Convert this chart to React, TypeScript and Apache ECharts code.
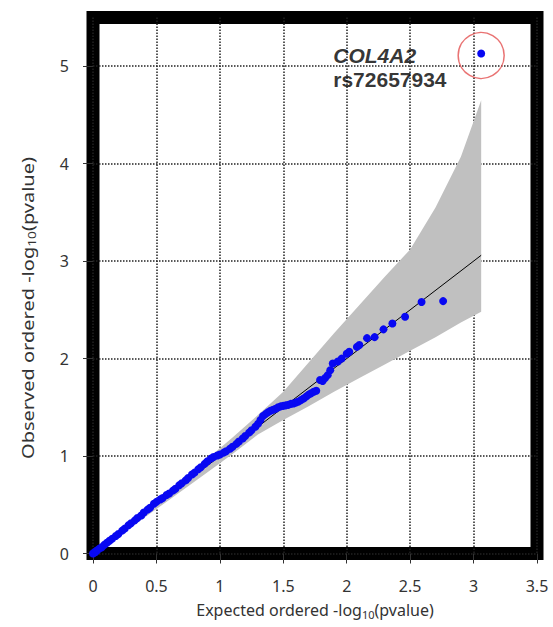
import React, { useEffect, useRef } from 'react';
import * as echarts from 'echarts';

// axis ticks
const xTicks = [0, 0.5, 1, 1.5, 2, 2.5, 3, 3.5];
const yTicks = [0, 1, 2, 3, 4, 5];

// QQ points: expected vs observed -log10(p)
const expected = [
  0, 0.01, 0.02, 0.03, 0.05, 0.07, 0.09, 0.11, 0.13, 0.15, 0.18, 0.2, 0.23, 0.25, 0.28, 0.3,
  0.33, 0.35, 0.38, 0.4, 0.43, 0.45, 0.48, 0.5, 0.53, 0.55, 0.58, 0.6, 0.63, 0.65, 0.68, 0.7,
  0.73, 0.75, 0.78, 0.8, 0.83, 0.85, 0.88, 0.9, 0.93, 0.95, 0.98, 1.0, 1.03, 1.05, 1.08, 1.1,
  1.13, 1.15, 1.18, 1.2, 1.23, 1.25, 1.28, 1.3, 1.32, 1.34, 1.36, 1.38, 1.4, 1.42, 1.44, 1.46,
  1.48, 1.5, 1.52, 1.54, 1.56, 1.58, 1.6, 1.62, 1.64, 1.66, 1.68, 1.7, 1.72, 1.74, 1.76,
  1.79, 1.81, 1.83, 1.85, 1.87, 1.89, 1.93, 1.96, 2.0, 2.02, 2.08, 2.1, 2.16, 2.22, 2.29,
  2.36, 2.46, 2.59, 2.76, 3.06,
];
const observed = [
  0, 0.01, 0.015, 0.03, 0.05, 0.065, 0.09, 0.11, 0.13, 0.15, 0.18, 0.2, 0.235, 0.255, 0.29, 0.31,
  0.34, 0.365, 0.39, 0.42, 0.45, 0.47, 0.51, 0.53, 0.555, 0.57, 0.6, 0.615, 0.645, 0.665, 0.7, 0.72,
  0.75, 0.775, 0.81, 0.83, 0.865, 0.885, 0.92, 0.945, 0.975, 0.99, 1.005, 1.015, 1.035, 1.05, 1.075, 1.095,
  1.125, 1.15, 1.18, 1.205, 1.24, 1.265, 1.3, 1.33, 1.37, 1.41, 1.43, 1.45, 1.465, 1.475, 1.485, 1.5,
  1.51, 1.515, 1.52, 1.525, 1.535, 1.54, 1.55, 1.56, 1.575, 1.59, 1.61, 1.63, 1.645, 1.66, 1.67,
  1.78, 1.77, 1.8, 1.83, 1.88, 1.95, 1.97, 2.0, 2.05, 2.07, 2.12, 2.14, 2.21, 2.22, 2.3,
  2.36, 2.43, 2.58, 2.59, 5.13,
];

// 95% confidence band
const bandX = [0, 0.3, 0.6, 0.9, 1.1, 1.3, 1.5, 1.7, 1.9, 2.1, 2.3, 2.5, 2.7, 2.9, 3.06];
const bandUpper = [0.01, 0.33, 0.65, 0.97, 1.19, 1.42, 1.66, 1.96, 2.26, 2.55, 2.84, 3.12, 3.55, 4.07, 4.65];
const bandLower = [0, 0.27, 0.55, 0.83, 1.02, 1.22, 1.37, 1.51, 1.66, 1.8, 1.94, 2.08, 2.22, 2.37, 2.48];

// expected (null) line
const nullLine = [0, 3.06];

// highlighted hit
const hitCircle = [3.06, 5.11];
const hitLabelAt = [1.89, 4.99];
const hitGene = 'COL4A2';
const hitSnp = 'rs72657934';

const FONT = '"Noto Sans", "Open Sans", sans-serif';

export default function App() {
  const ref = useRef<HTMLDivElement>(null);

  useEffect(() => {
    if (!ref.current) return;
    const chart = echarts.init(ref.current, undefined, { renderer: 'svg' });

    const points = expected.map((x, i) => [x, observed[i]]);

    chart.setOption({
      animation: false,
      backgroundColor: '#ffffff',
      grid: {
        left: 93,
        right: 16,
        top: 17.5,
        bottom: 73.5,
        show: true,
        borderColor: '#000000',
        borderWidth: 13,
        backgroundColor: 'transparent',
      },
      xAxis: {
        type: 'value',
        min: 0,
        max: 3.5,
        interval: 0.5,
        axisLine: { show: false },
        axisTick: { show: true, length: 10, inside: false, lineStyle: { color: '#333', width: 1 } },
        axisLabel: {
          margin: 24,
          fontSize: 16,
          fontFamily: FONT,
          color: '#333',
          customValues: xTicks,
          formatter: (v: number) => String(v),
        },
        splitLine: { show: true, lineStyle: { type: 'dotted', color: '#222', width: 1.5 } },
      },
      yAxis: {
        type: 'value',
        min: 0,
        max: 5.5,
        interval: 1,
        axisLine: { show: false },
        axisTick: { show: true, length: 10, customValues: yTicks, lineStyle: { color: '#333', width: 1 } },
        axisLabel: {
          margin: 24,
          fontSize: 16,
          fontFamily: FONT,
          color: '#333',
          customValues: yTicks,
          formatter: (v: number) => String(v),
        },
        splitLine: { show: true, lineStyle: { type: 'dotted', color: '#222', width: 1.5 } },
      },
      graphic: [
        {
          type: 'text',
          x: 315,
          y: 610,
          style: {
            text: '{a|Expected ordered -log}{b|10}{a|(pvalue)}',
            textAlign: 'center',
            textVerticalAlign: 'middle',
            rich: {
              a: { fontSize: 16, fontFamily: FONT, fill: '#333' },
              b: { fontSize: 11, fontFamily: FONT, fill: '#333', padding: [9, 0, 0, 0] },
            },
          },
        },
        {
          type: 'text',
          x: 28,
          y: 308,
          rotation: Math.PI / 2,
          scaleX: 1.25,
          scaleY: 1,
          style: {
            text: '{a|Observed ordered -log}{b|10}{a|(pvalue)}',
            textAlign: 'center',
            textVerticalAlign: 'middle',
            rich: {
              a: { fontSize: 16, fontFamily: FONT, fill: '#333' },
              b: { fontSize: 11, fontFamily: FONT, fill: '#333', padding: [9, 0, 0, 0] },
            },
          },
        },
      ],
      series: [
        {
          type: 'custom',
          z: 1,
          silent: true,
          data: [[0, 0]],
          renderItem: (_params: any, api: any) => {
            const up = bandX.map((x, i) => api.coord([x, bandUpper[i]]));
            const lo = bandX.map((x, i) => api.coord([x, bandLower[i]])).reverse();
            return {
              type: 'polygon',
              shape: { points: up.concat(lo) },
              style: { fill: '#c0c0c0', stroke: 'none' },
            };
          },
        },
        {
          type: 'line',
          z: 2,
          data: nullLine.map((v) => [v, v]),
          symbol: 'none',
          lineStyle: { color: '#000', width: 1 },
        },
        {
          type: 'scatter',
          z: 3,
          data: points,
          symbol: 'circle',
          symbolSize: 8,
          itemStyle: { color: '#0808f2', opacity: 1 },
        },
        {
          type: 'scatter',
          z: 4,
          data: [hitCircle],
          symbol: 'circle',
          symbolSize: 46,
          itemStyle: { color: 'transparent', borderColor: '#e45050', borderWidth: 1.5 },
        },
        {
          type: 'scatter',
          z: 5,
          data: [hitLabelAt],
          symbolSize: 1,
          itemStyle: { color: 'transparent' },
          label: {
            show: true,
            position: 'right',
            distance: 0,
            formatter: `{g|${hitGene}}\n{s|${hitSnp}}`,
            rich: {
              g: { fontSize: 21, fontWeight: 'bold', fontStyle: 'italic', fontFamily: '"Liberation Sans", Arial', color: '#000', lineHeight: 24 },
              s: { fontSize: 21, fontWeight: 'bold', fontFamily: '"Liberation Sans", Arial', color: '#000', lineHeight: 24 },
            },
          },
        },
      ],
    });

    return () => chart.dispose();
  }, []);

  return (
    <div
      ref={ref}
      style={{ position: 'fixed', left: 0, top: 0, width: 553, height: 627, background: '#fff' }}
    />
  );
}
